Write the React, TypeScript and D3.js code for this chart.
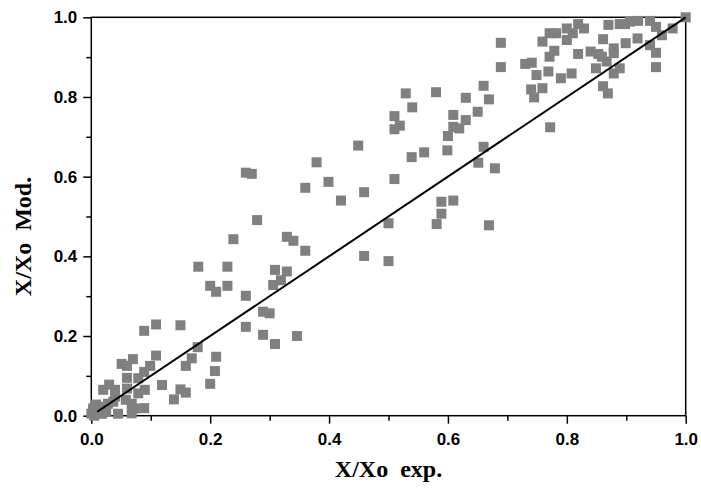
import React, { useEffect, useRef } from "react";
import * as d3 from "d3";

const expX = [
  0.000, 0.003, 0.008, 0.015, 0.005, 0.018, 0.012, 0.025, 0.028,
  0.020, 0.030, 0.040, 0.040, 0.037, 0.045, 0.051, 0.060, 0.060, 0.060, 0.058,
  0.070, 0.068, 0.073, 0.068, 0.079, 0.079, 0.089, 0.090, 0.089, 0.089, 0.099,
  0.109, 0.109, 0.119, 0.139, 0.150, 0.159, 0.150, 0.159, 0.169, 0.179, 0.180,
  0.200, 0.210, 0.229, 0.229, 0.210, 0.208, 0.200, 0.239,
  0.260, 0.260, 0.289, 0.300, 0.289, 0.309, 0.309, 0.329, 0.306, 0.319, 0.346,
  0.360, 0.260, 0.270, 0.279, 0.329, 0.340, 0.360, 0.379, 0.399,
  0.420, 0.449, 0.459, 0.459, 0.500, 0.500, 0.510, 0.510, 0.519, 0.510, 0.529,
  0.540, 0.539, 0.560, 0.580, 0.589, 0.589, 0.581, 0.599, 0.600,
  0.609, 0.609, 0.630, 0.609, 0.619, 0.630, 0.650, 0.660, 0.669, 0.660, 0.651,
  0.679, 0.669, 0.689, 0.689,
  0.730, 0.741, 0.749, 0.769, 0.790, 0.808, 0.740, 0.759, 0.745, 0.772, 0.759,
  0.771, 0.782, 0.800, 0.800, 0.810, 0.779, 0.771,
  0.819, 0.829, 0.819, 0.840, 0.853, 0.859, 0.867, 0.849, 0.889, 0.879, 0.861,
  0.869, 0.861, 0.879, 0.879, 0.899, 0.919, 0.870, 0.889, 0.898, 0.906, 0.920,
  0.940, 0.950, 0.960, 0.978, 1.000, 0.940, 0.950, 0.950,
];
const modY = [
  0.005, 0.018, 0.028, 0.022, 0.000, 0.005, 0.012, 0.010, 0.030,
  0.065, 0.078, 0.065, 0.048, 0.035, 0.005, 0.130, 0.125, 0.095, 0.068, 0.040,
  0.142, 0.030, 0.018, 0.006, 0.094, 0.056, 0.110, 0.065, 0.019, 0.213, 0.125,
  0.229, 0.151, 0.077, 0.041, 0.066, 0.058, 0.227, 0.125, 0.144, 0.172, 0.374,
  0.326, 0.311, 0.374, 0.326, 0.148, 0.112, 0.080, 0.443,
  0.301, 0.223, 0.261, 0.257, 0.203, 0.180, 0.366, 0.362, 0.328, 0.340, 0.200,
  0.414, 0.610, 0.607, 0.491, 0.449, 0.439, 0.572, 0.636, 0.587,
  0.540, 0.678, 0.561, 0.401, 0.483, 0.388, 0.594, 0.752, 0.728, 0.719, 0.809,
  0.774, 0.649, 0.661, 0.812, 0.537, 0.507, 0.481, 0.666, 0.702,
  0.540, 0.755, 0.742, 0.725, 0.721, 0.798, 0.763, 0.828, 0.794, 0.675, 0.635,
  0.621, 0.478, 0.936, 0.875,
  0.883, 0.886, 0.855, 0.864, 0.847, 0.859, 0.819, 0.822, 0.799, 0.724, 0.939,
  0.960, 0.960, 0.972, 0.943, 0.960, 0.916, 0.901,
  0.983, 0.972, 0.908, 0.914, 0.908, 0.901, 0.889, 0.872, 0.872, 0.859, 0.827,
  0.809, 0.945, 0.922, 0.910, 0.935, 0.947, 0.981, 0.983, 0.983, 0.989, 0.991,
  0.991, 0.976, 0.955, 0.972, 1.000, 0.930, 0.911, 0.875,
];

// fitted line
const fitX = [0.01, 1.0];
const fitY = [0.01, 1.0];

const majorTicks = [0, 0.2, 0.4, 0.6, 0.8, 1.0];
const minorTicks = [0.1, 0.3, 0.5, 0.7, 0.9];

const App = () => {
  const ref = useRef<SVGSVGElement>(null);

  useEffect(() => {
    const svg = d3.select(ref.current);
    svg.selectAll("*").remove();

    const W = 701;
    const H = 491;
    const margin = { top: 17.3, right: 15.3, bottom: 75.3, left: 91.3 };
    const width = W - margin.left - margin.right;
    const height = H - margin.top - margin.bottom;

    const x = d3.scaleLinear().domain([0, 1]).range([0, width]);
    const y = d3.scaleLinear().domain([0, 1]).range([height, 0]);

    const g = svg.append("g").attr("transform", `translate(${margin.left},${margin.top})`);

    const tickFont = "'Liberation Sans', Arial, sans-serif";

    // bottom axis
    const xAxis = g.append("g").attr("transform", `translate(0,${height})`);
    xAxis.call(d3.axisBottom(x).tickValues(majorTicks).tickSize(8).tickFormat(d3.format(".1f")));
    xAxis.append("g").call(d3.axisBottom(x).tickValues(minorTicks).tickSize(5).tickFormat(() => ""));
    // left axis
    const yAxis = g.append("g");
    yAxis.call(d3.axisLeft(y).tickValues(majorTicks).tickSize(8).tickFormat(d3.format(".1f")));
    yAxis.append("g").call(d3.axisLeft(y).tickValues(minorTicks).tickSize(5).tickFormat(() => ""));

    svg.selectAll(".domain").remove();
    svg.selectAll(".tick line").attr("stroke", "#000").attr("stroke-width", 1.5);
    svg.selectAll(".tick text")
      .attr("fill", "#000")
      .style("font-family", tickFont)
      .style("font-weight", "bold")
      .style("font-size", "17px");
    xAxis.selectAll(".tick text").attr("dy", "0.71em").attr("y", 17);
    yAxis.selectAll(".tick text").attr("x", -14);

    // frame
    g.append("rect")
      .attr("width", width)
      .attr("height", height)
      .attr("fill", "none")
      .attr("stroke", "#000")
      .attr("stroke-width", 1.5);

    // points
    const s = 10;
    g.append("g")
      .selectAll("rect")
      .data(expX.map((v, i) => [v, modY[i]]))
      .enter()
      .append("rect")
      .attr("x", d => x(d[0]) - s / 2)
      .attr("y", d => y(d[1]) - s / 2)
      .attr("width", s)
      .attr("height", s)
      .attr("fill", "#808080");

    // fit line
    const line = d3.line<number>().x(d => x(d)).y((d, i) => y(fitY[i]));
    g.append("path")
      .attr("d", line(fitX))
      .attr("fill", "none")
      .attr("stroke", "#000")
      .attr("stroke-width", 2);

    // axis titles
    svg.append("text")
      .attr("x", margin.left + width / 2)
      .attr("y", 477)
      .attr("text-anchor", "middle")
      .style("font-family", "'Liberation Serif', 'Times New Roman', serif")
      .style("font-weight", "bold")
      .style("font-size", "24px")
      .style("white-space", "pre")
      .text("X/Xo  exp.");

    svg.append("text")
      .attr("transform", `translate(31,${margin.top + height / 2 + 20}) rotate(-90)`)
      .attr("text-anchor", "middle")
      .style("font-family", "'Liberation Serif', 'Times New Roman', serif")
      .style("font-weight", "bold")
      .style("font-size", "24px")
      .style("white-space", "pre")
      .text("X/Xo  Mod.");
  }, []);

  return (
    <svg
      ref={ref}
      width={701}
      height={491}
      style={{ position: "absolute", left: 0, top: 0, background: "#fff" }}
    ></svg>
  );
};

export default App;
